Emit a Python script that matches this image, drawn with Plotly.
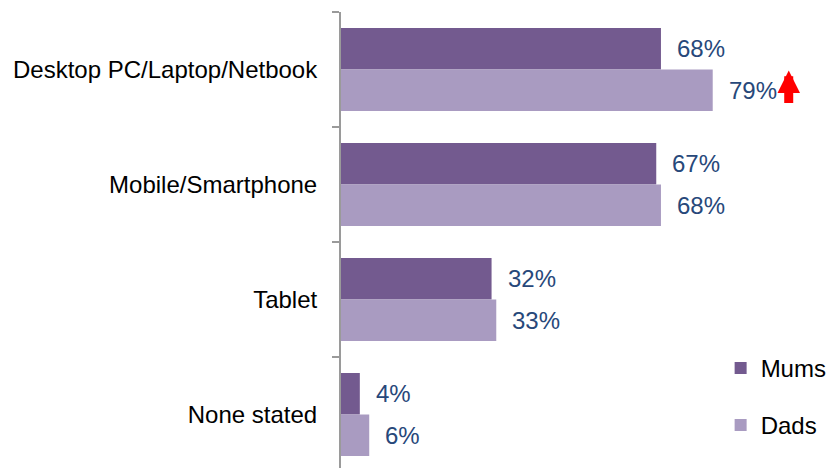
import plotly.graph_objects as go

categories = ["Desktop PC/Laptop/Netbook", "Mobile/Smartphone", "Tablet", "None stated"]
mums = [68, 67, 32, 4]
dads = [79, 68, 33, 6]
series_names = ["Mums", "Dads"]
colors = ["#735A8F", "#A99BC1"]
label_color = "#27487A"
font_family = "Liberation Sans, Arial, sans-serif"

fig = go.Figure()
for i, (name, vals, col) in enumerate(zip(series_names, [mums, dads], colors)):
    fig.add_trace(go.Bar(
        y=categories, x=vals, name=name, orientation="h",
        marker=dict(color=col, line=dict(width=0)),
        legendgroup=name, hoverinfo="skip",
    ))

annotations = []
for vals, ys in [(mums, 21), (dads, -21)]:
    for c, v in zip(categories, vals):
        annotations.append(dict(
            x=v, y=c, xref="x", yref="y", text=f"{v}%", showarrow=False,
            xanchor="left", yanchor="middle", xshift=14, yshift=ys,
            font=dict(family=font_family, size=24, color=label_color),
        ))

# red up arrow next to the Dads desktop value
annotations.append(dict(
    x=dads[0], y=categories[0], xref="x", yref="y", text="",
    showarrow=True, arrowhead=2, arrowsize=0.5, arrowwidth=9,
    arrowcolor="#FF0000", ax=0, ay=34, xshift=76, yshift=-1,
))

fig.update_layout(
    width=827, height=468,
    margin=dict(l=341, r=15, t=12, b=0, autoexpand=False),
    paper_bgcolor="white", plot_bgcolor="white",
    barmode="group", bargap=0.278, bargroupgap=0,
    font=dict(family=font_family, size=24, color="#000000"),
    showlegend=True,
    legend=dict(
        x=0.806, xanchor="left", y=0.268, yanchor="top",
        traceorder="grouped", tracegroupgap=23,
        font=dict(family=font_family, size=24, color="#000000"),
        bgcolor="rgba(0,0,0,0)",
    ),
    annotations=annotations,
)
fig.update_xaxes(range=[0, 100.1], visible=False, showgrid=False, zeroline=False)
fig.update_yaxes(
    type="category", categoryorder="array", categoryarray=categories,
    range=[3.465, -0.5], showgrid=False, zeroline=False, automargin=False,
    showline=True, linecolor="#9A9A9A", linewidth=2,
    ticks="outside", tickson="boundaries", ticklen=7, tickwidth=2, tickcolor="#9A9A9A",
    ticklabelstandoff=17,
    tickfont=dict(family=font_family, size=24, color="#000000"),
)

fig.write_html("out.html", config={"displayModeBar": False},
               post_script="document.body.style.margin='0';document.body.style.overflow='hidden';")
